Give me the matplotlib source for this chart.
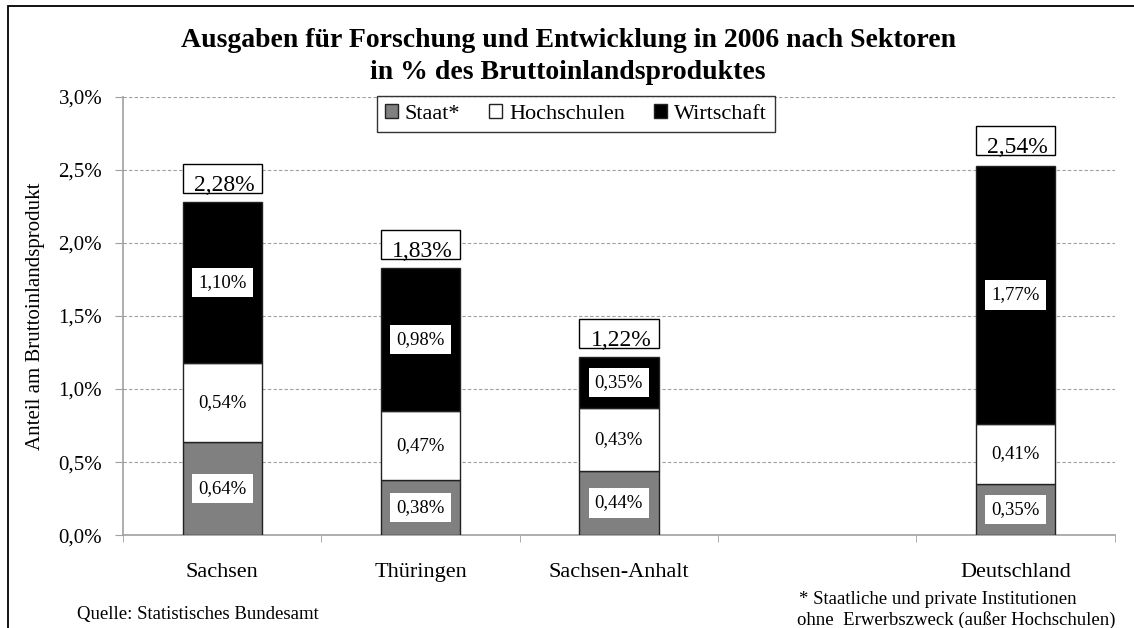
import matplotlib.pyplot as plt
import numpy as np
from matplotlib.patches import Rectangle

plt.rcParams['font.family'] = ['Liberation Serif', 'DejaVu Serif']

regions = ['Sachsen', 'Thüringen', 'Sachsen-Anhalt', '', 'Deutschland']
staat = [0.64, 0.38, 0.44, np.nan, 0.35]
hochschulen = [0.54, 0.47, 0.43, np.nan, 0.41]
wirtschaft = [1.10, 0.98, 0.35, np.nan, 1.77]
totals = [2.28, 1.83, 1.22, np.nan, 2.54]
series_names = ['Staat*', 'Hochschulen', 'Wirtschaft']
yticks = [0.0, 0.5, 1.0, 1.5, 2.0, 2.5, 3.0]


def pct(v):
    return ('%.2f%%' % v).replace('.', ',')


fig = plt.figure(figsize=(11.34, 6.28), dpi=100)
ax = fig.add_axes([0.1085, 0.148, 0.8745, 0.6975])

x = np.arange(len(regions))
ok = ~np.isnan(np.array(totals))
width = 0.4
colors = ['#808080', 'white', 'black']
bottom = np.zeros(len(regions))
for vals, name, col in zip([staat, hochschulen, wirtschaft], series_names, colors):
    v = np.nan_to_num(np.array(vals))
    ax.bar(x[ok], v[ok], width, bottom=bottom[ok], color=col,
           edgecolor='#222222', linewidth=1, label=name, zorder=3)
    for xi, vi, b in zip(x[ok], v[ok], bottom[ok]):
        ax.text(xi, b + vi / 2, pct(vi), ha='center', va='center', fontsize=13.5,
                zorder=5, bbox=dict(facecolor='white', edgecolor='none', pad=4.5))
    bottom = bottom + v

# total labels in a box as wide as the bar
for xi, t in zip(x[ok], np.array(totals)[ok]):
    ax.add_patch(Rectangle((xi - width / 2, t + 0.062), width, 0.198,
                           facecolor='white', edgecolor='black', linewidth=1,
                           zorder=5))
    ax.text(xi + 0.01, t + 0.075, pct(t), ha='center', va='baseline',
            fontsize=17, zorder=6)

ax.set_xlim(-0.5, len(regions) - 0.5)
ax.set_ylim(0, 3.0)
ax.set_yticks(yticks)
ax.set_yticklabels([('%.1f%%' % v).replace('.', ',') for v in yticks], fontsize=15)
ax.set_xticks(x)
ax.set_xticklabels(regions, fontsize=16)
ax.set_xticks(np.arange(len(regions) + 1) - 0.5, minor=True)
ax.tick_params(axis='x', which='major', length=0, pad=20)
ax.tick_params(axis='x', which='minor', length=5, color='#a0a0a0', direction='out')
ax.tick_params(axis='y', length=6, color='#a0a0a0', direction='out', pad=9)
ax.grid(axis='y', linestyle=(0, (3, 2)), color='#a0a0a0', linewidth=0.8, zorder=0)
for s in ['top', 'right']:
    ax.spines[s].set_visible(False)
for s in ['left', 'bottom']:
    ax.spines[s].set_color('#a0a0a0')
    ax.spines[s].set_linewidth(1.2)

ax.set_ylabel('Anteil am Bruttoinlandsprodukt', fontsize=15, labelpad=10)

leg = ax.legend(loc='upper center', bbox_to_anchor=(0.4565, 1.002), ncol=3,
                fontsize=16, frameon=True, fancybox=False, handlelength=0.6,
                handleheight=0.6, handletextpad=0.3, columnspacing=1.3,
                borderpad=0.35, borderaxespad=0)
leg.get_frame().set_edgecolor('black')
leg.get_frame().set_linewidth(1)
leg.set_zorder(7)

fig.text(0.501, 0.935, 'Ausgaben für Forschung und Entwicklung in 2006 nach Sektoren',
         ha='center', va='center', fontsize=20, fontweight='bold')
fig.text(0.501, 0.884, 'in % des Bruttoinlandsproduktes',
         ha='center', va='center', fontsize=20, fontweight='bold')

fig.text(0.068, 0.022, 'Quelle: Statistisches Bundesamt', fontsize=13.5, va='center')
fig.text(0.705, 0.046, '* Staatliche und private Institutionen', fontsize=13.5, va='center')
fig.text(0.703, 0.013, 'ohne  Erwerbszweck (außer Hochschulen)', fontsize=13.5, va='center')

fig.patches.append(Rectangle((8 / 1134, -0.1), 1.2, 1.1 - 6 / 628,
                             transform=fig.transFigure, fill=False,
                             edgecolor='black', linewidth=1.3))

fig.savefig('out.png', dpi=100)
